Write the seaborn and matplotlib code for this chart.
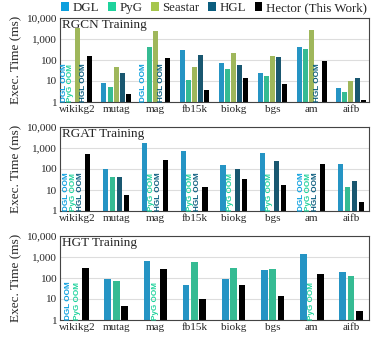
import numpy as np
import pandas as pd
import matplotlib
matplotlib.use("Agg")
import matplotlib.pyplot as plt
import seaborn as sns
from matplotlib.patches import Patch

datasets = ["wikikg2", "mutag", "mag", "fb15k", "biokg", "bgs", "am", "aifb"]
frameworks = ["DGL", "PyG", "Seastar", "HGL", "Hector (This Work)"]
colors = {"DGL": "#0b9fde", "PyG": "#1ed29c", "Seastar": "#a6c64c",
          "HGL": "#0b5d7e", "Hector (This Work)": "#000000"}
nan = np.nan

# RGCN training (ms); NaN = OOM
rgcn_dgl = [nan, 8.3, nan, 314, 76, 24.5, 420, 4.4]
rgcn_pyg = [nan, 5.0, 435, 11, 39, 17.7, 336, 3.0]
rgcn_seastar = [3200, 49, 2500, 44, 218, 151, 2760, 10.3]
rgcn_hgl = [nan, 23, nan, 180, 56, 135, nan, 13.2]
rgcn_hector = [162, 2.5, 126, 3.7, 13.2, 7.4, 94, 1.24]

# RGAT training (ms)
rgat_dgl = [nan, 98, 1660, 740, 158, 600, nan, 165]
rgat_pyg = [nan, 42, nan, nan, nan, nan, nan, 14]
rgat_hgl = [nan, 42, nan, nan, 98, 230, nan, 27.3]
rgat_hector = [515, 6.0, 265, 13.5, 34, 17.5, 178, 2.8]

# HGT training (ms)
hgt_dgl = [nan, 93, 665, 47.6, 93, 235, 1400, 188]
hgt_pyg = [nan, 69, nan, 595, 303, 282, nan, 120]
hgt_hector = [295, 4.9, 272, 10.4, 44, 14, 150, 2.6]

yticks = [1, 10, 100, 1000, 10000]
ytick_labels = ["1", "10", "100", "1,000", "10,000"]

panels = [
    ("RGCN Training", {"DGL": rgcn_dgl, "PyG": rgcn_pyg, "Seastar": rgcn_seastar,
                       "HGL": rgcn_hgl, "Hector (This Work)": rgcn_hector}, 0.78, 0.18),
    ("RGAT Training", {"DGL": rgat_dgl, "PyG": rgat_pyg, "HGL": rgat_hgl,
                       "Hector (This Work)": rgat_hector}, 0.72, 0.28),
    ("HGT Training", {"DGL": hgt_dgl, "PyG": hgt_pyg,
                      "Hector (This Work)": hgt_hector}, 0.64, 0.2),
]

oom_names = {"DGL": "DGL OOM", "PyG": "PyG OOM", "Seastar": "Seastar OOM", "HGL": "HGL OOM"}

sns.set_style("white")
plt.rcParams["font.family"] = ["Liberation Serif", "DejaVu Serif"]

fig = plt.figure(figsize=(3.76, 3.39), dpi=100)
W, H = 376, 339
axes_px = [(18, 102), (127, 211), (236, 320)]
left_px, right_px = 60, 369

for (title, series, width, gap), (top, bot) in zip(panels, axes_px):
    ax = fig.add_axes([left_px / W, 1 - bot / H, (right_px - left_px) / W, (bot - top) / H])
    order = list(series.keys())
    rows = []
    for fw in order:
        for ds, v in zip(datasets, series[fw]):
            rows.append({"dataset": ds, "framework": fw, "time": v})
    df = pd.DataFrame(rows)
    ax.set_yscale("log")
    sns.barplot(data=df, x="dataset", y="time", hue="framework", hue_order=order,
                order=datasets, palette=colors, width=width, gap=gap, ax=ax,
                legend=False, linewidth=0, err_kws={"linewidth": 0})
    ax.set_ylim(1, 10000)
    ax.set_xlim(-0.435, 7.46)
    ax.set_yticks(yticks)
    ax.set_yticklabels(ytick_labels, fontsize=8)
    ax.yaxis.set_minor_locator(matplotlib.ticker.NullLocator())
    ax.tick_params(axis="both", length=0, pad=2)
    ax.set_xticks(range(len(datasets)))
    ax.set_xticklabels(datasets, fontsize=8)
    ax.set_xlabel("")
    ax.set_ylabel("Exec. Time (ms)", fontsize=9.5, labelpad=3)
    ax.grid(axis="y", color="#dddddd", linewidth=0.8)
    ax.set_axisbelow(True)
    for s in ax.spines.values():
        s.set_color("#444444")
        s.set_linewidth(0.8)
    ax.text(0.008, 0.985, title, transform=ax.transAxes, ha="left", va="top", fontsize=9.5)
    n = len(order)
    slot = width / n
    for k, fw in enumerate(order):
        for i, v in enumerate(series[fw]):
            if np.isnan(v):
                x = i - width / 2 + slot * (k + 0.5)
                ax.text(x, 1.05, oom_names[fw], rotation=90, ha="center", va="bottom",
                        fontsize=5.9, fontweight="bold", color=colors[fw],
                        family=["Liberation Sans", "DejaVu Sans"])

handles = [Patch(facecolor=colors[f], edgecolor="none") for f in frameworks]
fig.legend(handles, frameworks, loc="center", bbox_to_anchor=(0.57, 1 - 8 / H), ncol=5,
           frameon=False, fontsize=9.3, handlelength=0.6, handleheight=0.6,
           handletextpad=0.3, columnspacing=0.65, borderaxespad=0, borderpad=0)

fig.savefig("out.png", dpi=100)
